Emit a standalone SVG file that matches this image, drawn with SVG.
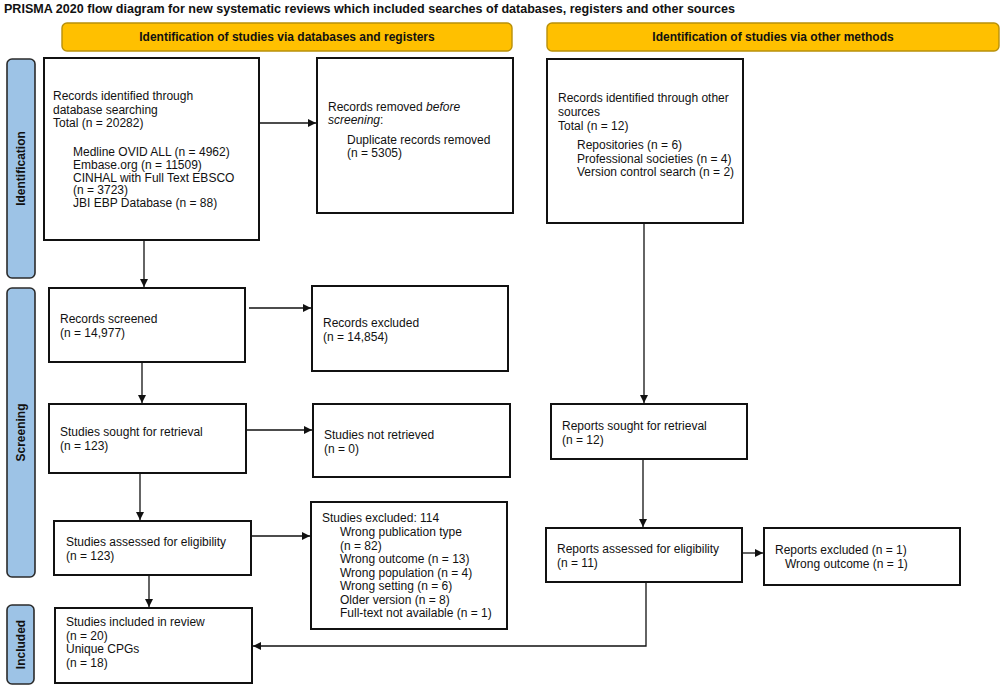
<svg xmlns="http://www.w3.org/2000/svg" width="1002" height="687" viewBox="0 0 1002 687">
<style>
.t{font-family:"Liberation Sans",Arial,sans-serif;font-size:12px;fill:#111}
.b{font-weight:bold}
.box{fill:#fff;stroke:#111;stroke-width:2}
.side{fill:#9dc3e6;stroke:#2b2b2b;stroke-width:1.6}
.hdr{fill:#ffc000;stroke:#b8900a;stroke-width:1.4}
.c{fill:none;stroke:#111;stroke-width:1.3}
</style>
<defs>
<marker id="ah" viewBox="0 0 10 10" refX="10" refY="5" markerWidth="9" markerHeight="8" markerUnits="userSpaceOnUse" orient="auto">
<path d="M0,0 L10,5 L0,10 z" fill="#111"/>
</marker>
</defs>
<rect width="1002" height="687" fill="#fff"/>
<text id="title" class="t b" x="4" y="13" font-size="12.5" textLength="731" lengthAdjust="spacingAndGlyphs">PRISMA 2020 flow diagram for new systematic reviews which included searches of databases, registers and other sources</text>

<g id="hdr-left"><rect class="hdr" x="62" y="23" width="450" height="28" rx="5"/><text class="t b" x="287" y="41" text-anchor="middle">Identification of studies via databases and registers</text></g>
<g id="hdr-right"><rect class="hdr" x="547" y="23" width="452" height="28" rx="5"/><text class="t b" x="773" y="41" text-anchor="middle">Identification of studies via other methods</text></g>

<g id="side-identification"><rect class="side" x="7" y="59" width="28" height="219" rx="5"/><text class="t b" transform="translate(25,168.5) rotate(-90)" text-anchor="middle">Identification</text></g>
<g id="side-screening"><rect class="side" x="7" y="288" width="28" height="289" rx="5"/><text class="t b" transform="translate(25,432.5) rotate(-90)" text-anchor="middle">Screening</text></g>
<g id="side-included"><rect class="side" x="7" y="605" width="27" height="79" rx="5"/><text class="t b" transform="translate(25,644.5) rotate(-90)" text-anchor="middle">Included</text></g>

<g id="n-db"><rect class="box" x="44" y="58" width="215" height="182"/>
<text class="t" x="53" y="100">Records identified through</text>
<text class="t" x="53" y="113.5">database searching</text>
<text class="t" x="53" y="127">Total (n = 20282)</text>
<text class="t" x="73" y="156">Medline OVID ALL (n = 4962)</text>
<text class="t" x="73" y="168.8">Embase.org (n = 11509)</text>
<text class="t" x="73" y="181.6">CINHAL with Full Text EBSCO</text>
<text class="t" x="73" y="194.4">(n = 3723)</text>
<text class="t" x="73" y="207.2">JBI EBP Database (n = 88)</text>
</g>
<g id="n-removed"><rect class="box" x="317" y="58" width="196" height="155"/>
<text class="t" x="328" y="111">Records removed <tspan font-style="italic">before</tspan></text>
<text class="t" x="328" y="124"><tspan font-style="italic">screening</tspan>:</text>
<text class="t" x="347" y="144">Duplicate records removed</text>
<text class="t" x="347" y="157">(n = 5305)</text>
</g>
<g id="n-other"><rect class="box" x="547" y="59" width="196" height="164"/>
<text class="t" x="558" y="102">Records identified through other</text>
<text class="t" x="558" y="116">sources</text>
<text class="t" x="558" y="130">Total (n = 12)</text>
<text class="t" x="577" y="149">Repositories (n = 6)</text>
<text class="t" x="577" y="162.5">Professional societies (n = 4)</text>
<text class="t" x="577" y="176">Version control search (n = 2)</text>
</g>
<g id="n-screened"><rect class="box" x="49" y="288" width="196" height="74"/>
<text class="t" x="60" y="323">Records screened</text>
<text class="t" x="60" y="336.5">(n = 14,977)</text>
</g>
<g id="n-excluded"><rect class="box" x="312" y="286" width="196" height="85"/>
<text class="t" x="323" y="327">Records excluded</text>
<text class="t" x="323" y="340.5">(n = 14,854)</text>
</g>
<g id="n-sought"><rect class="box" x="49" y="404" width="197" height="69"/>
<text class="t" x="60" y="436">Studies sought for retrieval</text>
<text class="t" x="60" y="449.5">(n = 123)</text>
</g>
<g id="n-notretrieved"><rect class="box" x="313" y="404" width="197" height="73"/>
<text class="t" x="324" y="439">Studies not retrieved</text>
<text class="t" x="324" y="452.5">(n = 0)</text>
</g>
<g id="n-reports-sought"><rect class="box" x="551" y="404" width="196" height="55"/>
<text class="t" x="562" y="430">Reports sought for retrieval</text>
<text class="t" x="562" y="443.5">(n = 12)</text>
</g>
<g id="n-assessed"><rect class="box" x="54" y="521" width="197" height="54"/>
<text class="t" x="66" y="546">Studies assessed for eligibility</text>
<text class="t" x="66" y="559.5">(n = 123)</text>
</g>
<g id="n-studies-excluded"><rect class="box" x="311" y="502" width="196" height="127"/>
<text class="t" x="322" y="522">Studies excluded: 114</text>
<text class="t" x="340" y="536">Wrong publication type</text>
<text class="t" x="340" y="549.5">(n = 82)</text>
<text class="t" x="340" y="563">Wrong outcome (n = 13)</text>
<text class="t" x="340" y="576.5">Wrong population (n = 4)</text>
<text class="t" x="340" y="590">Wrong setting (n = 6)</text>
<text class="t" x="340" y="603.5">Older version (n = 8)</text>
<text class="t" x="340" y="617">Full-text not available (n = 1)</text>
</g>
<g id="n-reports-assessed"><rect class="box" x="546" y="528" width="196" height="54"/>
<text class="t" x="557" y="553">Reports assessed for eligibility</text>
<text class="t" x="557" y="566.5">(n = 11)</text>
</g>
<g id="n-reports-excluded"><rect class="box" x="764" y="528" width="196" height="57"/>
<text class="t" x="775" y="554">Reports excluded (n = 1)</text>
<text class="t" x="785" y="567.5">Wrong outcome (n = 1)</text>
</g>
<g id="n-included"><rect class="box" x="55" y="608" width="197" height="75"/>
<text class="t" x="66" y="626">Studies included in review</text>
<text class="t" x="66" y="639.5">(n = 20)</text>
<text class="t" x="66" y="653">Unique CPGs</text>
<text class="t" x="66" y="666.5">(n = 18)</text>
</g>

<g id="connectors">
<line class="c" x1="259" y1="123" x2="316" y2="123" marker-end="url(#ah)"/>
<line class="c" x1="144" y1="241" x2="144" y2="287" marker-end="url(#ah)"/>
<line class="c" x1="249" y1="308" x2="311" y2="308" marker-end="url(#ah)"/>
<line class="c" x1="142" y1="363" x2="142" y2="403" marker-end="url(#ah)"/>
<line class="c" x1="247" y1="430" x2="312" y2="430" marker-end="url(#ah)"/>
<line class="c" x1="140" y1="474" x2="140" y2="520" marker-end="url(#ah)"/>
<line class="c" x1="252" y1="536" x2="310" y2="536" marker-end="url(#ah)"/>
<line class="c" x1="149" y1="576" x2="149" y2="607" marker-end="url(#ah)"/>
<line class="c" x1="644" y1="224" x2="644" y2="403" marker-end="url(#ah)"/>
<line class="c" x1="643" y1="460" x2="643" y2="527" marker-end="url(#ah)"/>
<line class="c" x1="743" y1="553" x2="763" y2="553" marker-end="url(#ah)"/>
<path class="c" d="M646,583 V646 H253" marker-end="url(#ah)"/>
</g>
</svg>
